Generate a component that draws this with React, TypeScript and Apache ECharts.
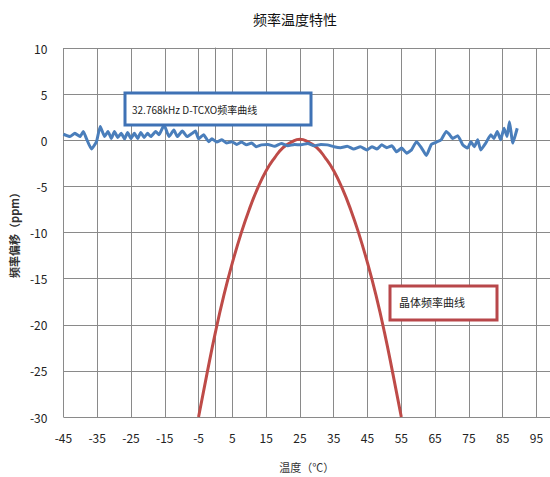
import React, { useEffect, useRef } from "react";
import * as echarts from "echarts";

const xTicks = [-45, -35, -25, -15, -5, 5, 15, 25, 35, 45, 55, 65, 75, 85, 95];

const tcxoTemp = [
  -45, -43.05, -41.6, -40.1, -39.1, -38.2, -36.7, -35.2, -34.1, -32.8, -31.8, -30.8, -29.9, -28.9,
  -27.9, -26.9, -26.0, -25.0, -24.0, -23.0, -22.1, -21.1, -20.1, -19.1, -17.7, -16.7, -15.2,
  -13.75, -12.3, -11.3, -9.8, -8.4, -6.9, -5.9, -5.0, -3.5, -2.0, -1.05, 0.4, 1.9, 3.3, 4.8,
  6.3, 7.7, 9.2, 10.7, 12.1, 13.6, 15.5, 17.5, 19.5, 21.4, 23.4, 25.3, 27.3, 29.2, 31.2, 33.1,
  35.1, 37.0, 39.0, 40.9, 42.9, 44.8, 46.3, 47.8, 49.2, 50.7, 52.2, 53.6, 55.1, 56.6, 58.0,
  59.5, 61.0, 62.4, 63.9, 65.4, 66.8, 68.3, 69.3, 70.2, 71.7, 73.2, 74.6, 75.6, 76.6, 77.6,
  78.5, 80.0, 81.5, 82.4, 83.4, 84.4, 85.4, 86.3, 87.0, 88.0, 89.3,
];
const tcxoPpm = [
  0.65, 0.4, 0.75, 0.4, 0.95, 0.2, -0.95, -0.15, 1.5, 0.4, 0.95, 0.2, 0.95, 0.3, 0.75, 0.15,
  0.85, 0.2, 0.75, 0.2, 0.85, 0.3, 0.75, 0.4, 0.95, 0.6, 1.65, 0.4, 1.1, 0.4, 1.0, 0.4, 0.75,
  1.0, 0.15, 0.6, -0.15, 0.15, -0.2, 0.05, -0.3, -0.15, -0.45, -0.2, -0.5, -0.3, -0.7, -0.5,
  -0.45, -0.65, -0.35, -0.6, -0.45, -0.5, -0.35, -0.6, -0.45, -0.5, -0.7, -0.8, -0.65, -0.95,
  -0.7, -1.05, -0.7, -0.95, -0.5, -0.8, -0.6, -1.25, -0.85, -1.4, -1.05, -0.15, -0.85, -1.65,
  -0.45, -0.2, 0.05, 0.95, 0.6, 0.2, 0.5, -0.5, -0.85, -0.15, -0.7, 0.05, -1.05, -0.3, 0.6,
  0.2, 0.95, 0.05, 1.3, 0.4, 2.0, -0.3, 1.3,
];

const xtalTemp = [
  -5, -2.5, 0, 2.5, 5, 7.5, 10, 12.5, 15, 17.5, 20, 22.5, 25, 27.5, 30, 32.5, 35, 37.5, 40,
  42.5, 45, 47.5, 50, 52.5, 55,
];
const xtalPpm = [
  -30, -25.3, -20.8, -16.8, -13.3, -10.2, -7.5, -5.2, -3.3, -1.9, -0.8, -0.2, 0.1, -0.2, -0.8,
  -1.9, -3.3, -5.2, -7.5, -10.2, -13.3, -16.8, -20.8, -25.3, -30,
];

const FONT = "'Noto Sans CJK SC', 'Noto Sans', sans-serif";

export default function App() {
  const ref = useRef<HTMLDivElement>(null);
  useEffect(() => {
    if (!ref.current) return;
    const chart = echarts.init(ref.current, null, { renderer: "svg" });
    chart.setOption({
      animation: false,
      backgroundColor: "#ffffff",
      title: {
        text: "频率温度特性",
        left: 290,
        top: 7,
        textAlign: "center",
        textStyle: { fontFamily: FONT, fontSize: 14, fontWeight: "normal", color: "#111" },
      },
      grid: { left: 62, right: 0, top: 48, bottom: 59, containLabel: false },
      xAxis: {
        type: "value",
        min: -45,
        max: 99,
        interval: 10,
        name: "温度（℃）",
        nameLocation: "middle",
        nameGap: 44,
        nameTextStyle: { fontFamily: FONT, fontSize: 11, color: "#333" },
        axisLine: { show: true, lineStyle: { color: "#868686", width: 1 } },
        axisTick: { show: false },
        axisLabel: {
          margin: 14,
          fontFamily: FONT,
          fontSize: 12,
          color: "#222",
          showMaxLabel: false,
          formatter: (v: number) => (xTicks.includes(v) ? String(v) : ""),
        },
        splitLine: { show: true, lineStyle: { color: "#8a8a8a", width: 1 } },
      },
      yAxis: {
        type: "value",
        min: -30,
        max: 10,
        interval: 5,
        name: "频率偏移（ppm）",
        nameLocation: "middle",
        nameGap: 40,
        nameRotate: 90,
        nameTextStyle: { fontFamily: FONT, fontSize: 11, color: "#333", fontWeight: "bold" },
        axisLine: { show: true, lineStyle: { color: "#868686", width: 1 } },
        axisTick: { show: false },
        axisLabel: { margin: 16, fontFamily: FONT, fontSize: 12, color: "#222" },
        splitLine: { show: true, lineStyle: { color: "#8a8a8a", width: 1 } },
      },
      series: [
        {
          name: "晶体频率曲线",
          type: "line",
          data: xtalTemp.map((t, i) => [t, xtalPpm[i]]),
          smooth: true,
          showSymbol: false,
          lineStyle: { color: "#BE4B48", width: 3 },
          z: 2,
        },
        {
          name: "32.768kHz D-TCXO频率曲线",
          type: "line",
          data: tcxoTemp.map((t, i) => [t, tcxoPpm[i]]),
          smooth: 0.15,
          showSymbol: false,
          lineStyle: { color: "#4A7EBB", width: 3 },
          z: 3,
        },
      ],
      graphic: [
        {
          type: "rect",
          shape: { x: 125, y: 93, width: 186, height: 32 },
          style: { fill: "#ffffff", stroke: "#3F72B5", lineWidth: 3 },
          z: 10,
        },
        {
          type: "text",
          x: 132,
          y: 109,
          style: {
            text: "32.768kHz D-TCXO频率曲线",
            fontFamily: FONT,
            fontSize: 10,
            fill: "#222",
            verticalAlign: "middle",
          },
          z: 11,
        },
        {
          type: "rect",
          shape: { x: 390, y: 286, width: 107, height: 34 },
          style: { fill: "#ffffff", stroke: "#B8474A", lineWidth: 3 },
          z: 10,
        },
        {
          type: "text",
          x: 399,
          y: 302,
          style: {
            text: "晶体频率曲线",
            fontFamily: FONT,
            fontSize: 11,
            fill: "#222",
            verticalAlign: "middle",
          },
          z: 11,
        },
      ],
    });
    return () => chart.dispose();
  }, []);
  return (
    <div
      ref={ref}
      style={{ position: "absolute", left: 0, top: 0, width: 550, height: 477, background: "#fff" }}
    />
  );
}
